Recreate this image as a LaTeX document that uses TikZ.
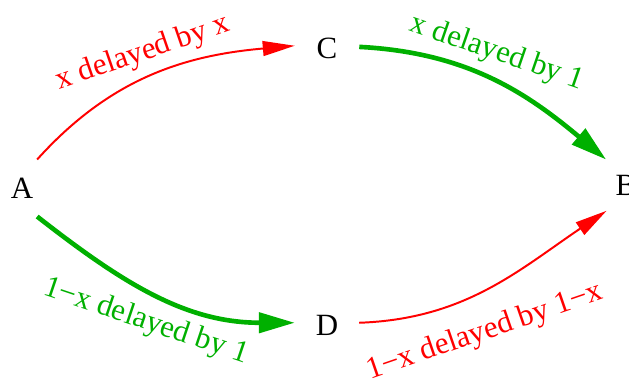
\documentclass[tikz,border=0pt]{standalone}
\usepackage{fontspec}
\setmainfont{Liberation Serif}
\usetikzlibrary{arrows.meta}
\definecolor{slowred}{RGB}{255,0,0}
\definecolor{fastgreen}{RGB}{0,176,0}

\begin{document}
\begin{tikzpicture}[x=0.025cm,y=0.025cm,
  state/.style={circle,minimum size=1.6cm,inner sep=0pt,font=\fontsize{22}{26}\selectfont},
  delay/.style={inner sep=0pt,font=\fontsize{22}{26}\selectfont},
  slow/.style={draw=slowred,line width=1.4pt,-{Triangle[length=0.8cm,width=0.37cm]}},
  fast/.style={draw=fastgreen,line width=3.3pt,-{Triangle[length=0.9cm,width=0.5cm]}}]
\useasboundingbox (0,0) rectangle (629,378);
\node[state] (A) at (22,190) {A};
\node[state] (C) at (327,330) {C};
\node[state] (D) at (327,53) {D};
\node[state] (B) at (626,193) {B};
% upper route
\draw[slow] (A.62) to[out=48,in=185] (C.176);
\draw[fast] (C.2) to[out=-3,in=140] (B.128);
% lower route
\draw[fast] (A.-62) to[out=-38,in=180] (D.176);
\draw[slow] (D.4) to[out=2,in=214] (B.233);
\node[delay,text=slowred,rotate=19] (dAC) at (143,325) {x delayed by x};
\node[delay,text=fastgreen,rotate=-19] (dCB) at (497,325) {x delayed by 1};
\node[delay,text=fastgreen,rotate=-18.6] (dAD) at (146,56) {1−x delayed by 1};
\node[delay,text=slowred,rotate=19] (dDB) at (485,46) {1−x delayed by 1−x};
\end{tikzpicture}
\end{document}
